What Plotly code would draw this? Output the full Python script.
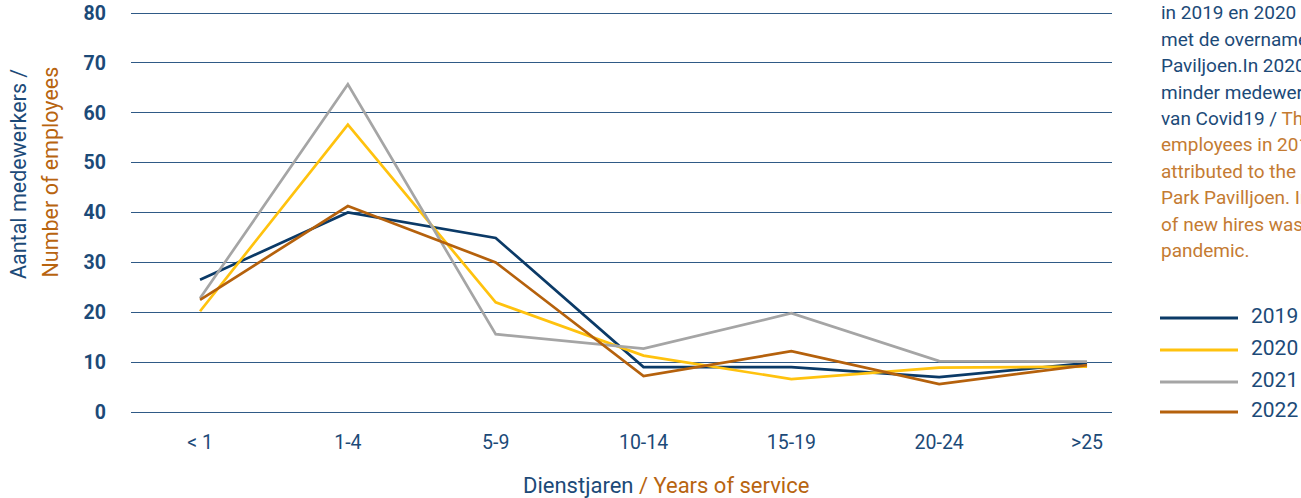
import plotly.graph_objects as go

categories = ["< 1", "1-4", "5-9", "10-14", "15-19", "20-24", ">25"]
years = ["2019", "2020", "2021", "2022"]
values_2019 = [26.5, 40.0, 34.9, 9.0, 9.0, 7.0, 9.8]
values_2020 = [20.2, 57.6, 22.0, 11.3, 6.6, 8.9, 9.1]
values_2021 = [22.8, 65.7, 15.6, 12.7, 19.8, 10.2, 10.1]
values_2022 = [22.5, 41.3, 30.0, 7.2, 12.2, 5.6, 9.4]
y_ticks = [0, 10, 20, 30, 40, 50, 60, 70, 80]

series = [values_2019, values_2020, values_2021, values_2022]
colors = ["#0b3a67", "#ffc20e", "#a5a5a5", "#b5610c"]

NAVY = "#1c4a78"
ORANGE = "#b8640f"
ORANGE_LIGHT = "#c47b32"
FONT = "Roboto"

W, H = 1301, 498
L, R, T, B = 131, 189, 11, 84
PW = W - L - R
PH = H - T - B


def px(xp):
    return (xp - L) / PW


def py(yp):
    return (H - B - yp) / PH


fig = go.Figure()
for name, vals, col in zip(years, series, colors):
    fig.add_trace(go.Scatter(x=categories, y=vals, mode="lines", name=name,
                             line=dict(color=col, width=2.7), showlegend=False))

annotations = []
shapes = []

# custom legend (long line samples)
leg_y = [318, 350, 382, 412]
for name, col, yy in zip(years, colors, leg_y):
    shapes.append(dict(type="line", xref="paper", yref="paper",
                       x0=px(1160), x1=px(1238), y0=py(yy), y1=py(yy),
                       line=dict(color=col, width=3)))
    annotations.append(dict(text=name, xref="paper", yref="paper",
                            x=px(1249), y=py(yy - 2), xanchor="left", yanchor="middle",
                            showarrow=False, font=dict(family=FONT, size=21, color=NAVY)))

# side note text (clipped at the right edge like the reference)
note_lines = [
    ("in 2019 en 2020 kan in verband worden", None),
    ("met de overname van Park", None),
    ("Paviljoen.In 2020 werden er", None),
    ("minder medewerkers aangenomen vanwege", None),
    ("van Covid19 / ", "The higher number of new"),
    (None, "employees in 2019 and 2020 can be"),
    (None, "attributed to the acquisition of"),
    (None, "Park Pavilljoen. In 2020 the number"),
    (None, "of new hires was lower due to the"),
    (None, "pandemic."),
]
for i, (nl, en) in enumerate(note_lines):
    baseline = 21.3 + 26.4 * i
    parts = ""
    if nl:
        parts += f"<span style='color:{NAVY}'>{nl}</span>"
    if en:
        parts += f"<span style='color:{ORANGE_LIGHT}'>{en}</span>"
    annotations.append(dict(text=parts, xref="paper", yref="paper",
                            x=px(1159), y=py(baseline + 5), xanchor="left", yanchor="bottom",
                            showarrow=False, align="left",
                            font=dict(family=FONT, size=19, color=NAVY)))

# axis titles
annotations.append(dict(text="Aantal medewerkers /", xref="paper", yref="paper",
                        x=px(18), y=py(174), textangle=-90, showarrow=False,
                        xanchor="center", yanchor="middle",
                        font=dict(family=FONT, size=21.5, color=NAVY)))
annotations.append(dict(text="Number of employees", xref="paper", yref="paper",
                        x=px(50), y=py(172.5), textangle=-90, showarrow=False,
                        xanchor="center", yanchor="middle",
                        font=dict(family=FONT, size=21.5, color=ORANGE)))
annotations.append(dict(text=f"<span style='color:{NAVY}'>Dienstjaren</span>"
                             f"<span style='color:{ORANGE}'> / Years of service</span>",
                        xref="paper", yref="paper", x=px(666), y=py(485),
                        xanchor="center", yanchor="middle", showarrow=False,
                        font=dict(family=FONT, size=22, color=NAVY)))

fig.update_layout(
    width=W, height=H,
    margin=dict(l=L, r=R, t=T, b=B, pad=0, autoexpand=False),
    paper_bgcolor="white", plot_bgcolor="white",
    font=dict(family=FONT, color=NAVY),
    annotations=annotations, shapes=shapes,
    showlegend=False,
)
fig.update_xaxes(type="category", range=[-0.467, 6.169], showgrid=False,
                 zeroline=False, showline=False, ticks="", automargin=False,
                 tickfont=dict(family=FONT, size=19.5, color=NAVY),
                 ticklabelstandoff=14)
fig.update_yaxes(range=[-0.4, 80.4], tickvals=y_ticks, showgrid=True, automargin=False,
                 gridcolor="#2f5a86", gridwidth=1, zeroline=False, showline=False,
                 ticks="", tickfont=dict(family=FONT, size=19.5, color=NAVY, weight="bold"),
                 ticklabelstandoff=24)

fig.write_html("out.html", config={"displayModeBar": False},
               post_script="document.body.style.margin='0';document.body.style.overflow='hidden';")
